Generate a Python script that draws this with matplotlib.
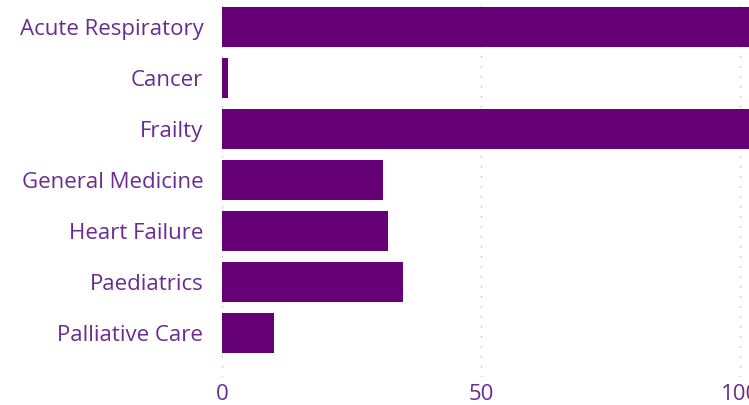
import matplotlib
matplotlib.use("Agg")
import matplotlib.pyplot as plt

categories = ["Acute Respiratory", "Cancer", "Frailty", "General Medicine",
              "Heart Failure", "Paediatrics", "Palliative Care"]
values = [120, 1.2, 115, 31, 32, 35, 10]
xticks = [0, 50, 100]

bar_color = "#660077"
text_color = "#6B2C91"

plt.rcParams['font.family'] = ['Open Sans', 'DejaVu Sans']
plt.rcParams['lines.scale_dashes'] = False

fig = plt.figure(figsize=(7.49, 4.05), dpi=100)
W, H = 749, 405
left, right, top, bottom = 222, 749, 0, 377
ax = fig.add_axes([left / W, 1 - bottom / H, (right - left) / W, (bottom - top) / H])

y = list(range(len(categories)))
ax.barh(y, values, height=0.78, color=bar_color, zorder=3)
ax.set_ylim((bottom - 27) / 51, (top - 27) / 51)
x_per_px = 50 / (481 - 222)
ax.set_xlim(0, (right - left) * x_per_px)

ax.set_yticks(y)
ax.set_yticklabels(categories)
ax.set_xticks(xticks)
ax.set_xticklabels([str(t) for t in xticks])
ax.tick_params(axis='y', length=0, pad=13.5, labelsize=16, labelcolor=text_color)
ax.tick_params(axis='x', length=0, pad=5, labelsize=16, labelcolor=text_color)

for s in ax.spines.values():
    s.set_visible(False)
ax.grid(axis='x', color='#BDBDBD', linestyle=(0, (1.0, 6.2)), linewidth=1.0, zorder=0)
ax.set_axisbelow(True)

fig.savefig("out.png", dpi=100)
